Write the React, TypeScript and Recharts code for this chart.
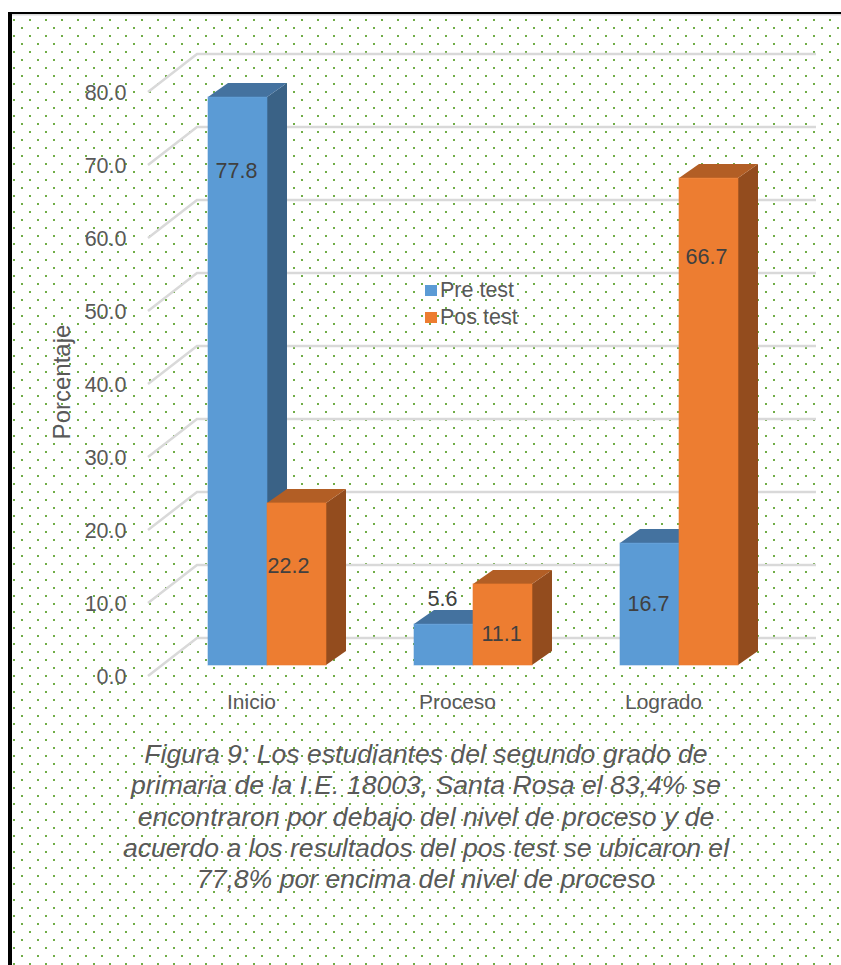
import React from "react";
import { BarChart, Bar, XAxis, YAxis, Legend, LabelList, CartesianGrid } from "recharts";

const categories = ["Inicio", "Proceso", "Logrado"];
const preTest = [77.8, 5.6, 16.7];
const posTest = [22.2, 11.1, 66.7];
const yTicks = [0, 10, 20, 30, 40, 50, 60, 70, 80];
const captionLines = [
  "Figura 9: Los estudiantes del segundo grado de",
  "primaria de la I.E. 18003, Santa Rosa el 83,4% se",
  "encontraron por debajo del nivel de proceso y de",
  "acuerdo a los resultados del pos test se ubicaron el",
  "77,8% por encima del nivel de proceso",
];

const table = categories.map((name, i) => ({ name, pre: preTest[i], pos: posTest[i] }));

// Hand-placed data label nudges (dx, dy from the top-centre of the front face)
const preLabelNudge = [[-1, 73], [-1, -26], [-1, 60]];
const posLabelNudge = [[-8, 63], [-1, 50], [-2, 78]];

const FONT = '"Liberation Sans", Arial, sans-serif';
const GREY = "#595959";
const DX = 20;
const DY = 14;

function Box3D(props: any) {
  const { x, y, width, height, front, top, side } = props;
  if (height == null) return null;
  const r = x + width;
  const b = y + height;
  return (
    <g>
      <polygon points={`${r},${y} ${r + DX},${y - DY} ${r + DX},${b - DY} ${r},${b}`} fill={side} />
      <polygon points={`${x},${y} ${x + DX},${y - DY} ${r + DX},${y - DY} ${r},${y}`} fill={top} />
      <rect x={x} y={y} width={width} height={height} fill={front} stroke={front} strokeOpacity={0.6} strokeWidth={1} />
    </g>
  );
}

function GridLine(props: any) {
  const y = props.y1;
  return (
    <polyline
      key={props.key}
      points={`148,${y + 11} 197,${y - 27} 816,${y - 27}`}
      fill="none"
      stroke="#d9d9d9"
      strokeWidth={2.5}
    />
  );
}

function YTick(props: any) {
  const { y, payload } = props;
  return (
    <text x={126.5} y={y + 11} dy={7.5} textAnchor="end" fontFamily={FONT} fontSize={21.5} fill={GREY}>
      {payload.value.toFixed(1)}
    </text>
  );
}

function XTick(props: any) {
  const { x, y, payload } = props;
  return (
    <text x={x - 15.5} y={y + 29} dy={7} textAnchor="middle" fontFamily={FONT} fontSize={21} fill={GREY}>
      {payload.value}
    </text>
  );
}

function YTitle(props: any) {
  const { viewBox } = props;
  const cx = viewBox.x + 62;
  const cy = viewBox.y + viewBox.height / 2 + 9;
  return (
    <text
      x={cx}
      y={cy}
      dy={8}
      transform={`rotate(-90 ${cx} ${cy})`}
      textAnchor="middle"
      fontFamily={FONT}
      fontSize={24}
      fill={GREY}
    >
      Porcentaje
    </text>
  );
}

const makeLabel = (nudge: number[][]) => (props: any) => {
  const { x, y, width, value, index } = props;
  return (
    <text
      x={x + width / 2 + nudge[index][0]}
      y={y + nudge[index][1]}
      dy={7.5}
      textAnchor="middle"
      fontFamily={FONT}
      fontSize={21.5}
      fill="#404040"
    >
      {Number(value).toFixed(1)}
    </text>
  );
};

function LegendBox({ payload }: any) {
  return (
    <div style={{ fontFamily: FONT, fontSize: 21.5, color: GREY }}>
      {(payload || []).map((e: any) => (
        <div key={e.value} style={{ display: "flex", alignItems: "center", height: 27, whiteSpace: "nowrap" }}>
          <span style={{ width: 12, height: 11, background: e.color, marginRight: 3, display: "inline-block" }} />
          {e.value}
        </div>
      ))}
    </div>
  );
}

export default function App() {
  return (
    <div style={{ position: "absolute", left: 0, top: 0, width: 841, height: 965, overflow: "hidden", background: "#fff" }}>
      <svg width={841} height={965} style={{ position: "absolute", left: 0, top: 0 }}>
        <defs>
          <pattern id="dots" x={0} y={0} width={16} height={16} patternUnits="userSpaceOnUse">
            <rect x={13} y={3} width={2} height={2} fill="#70ad47" />
            <rect x={5} y={11} width={2} height={2} fill="#70ad47" />
          </pattern>
        </defs>
        <rect x={12} y={14} width={829} height={951} fill="url(#dots)" />
        <rect x={12} y={14} width={829} height={1.5} fill="#d9d9d9" />
        <rect x={8} y={12} width={833} height={2} fill="#000" />
        <rect x={8} y={12} width={4} height={953} fill="#000" />
      </svg>
      <div style={{ position: "absolute", left: 0, top: 0 }}>
        <BarChart
          width={841}
          height={965}
          data={table}
          margin={{ top: 81, right: 59, bottom: 270, left: 0 }}
          barSize={59}
          barGap={0}
        >
          <CartesianGrid vertical={false} horizontal={GridLine as any} syncWithTicks />
          <XAxis dataKey="name" axisLine={false} tickLine={false} height={30} tick={<XTick />} interval={0} />
          <YAxis
            type="number"
            domain={[0, 80]}
            ticks={yTicks}
            interval={0}
            width={164}
            axisLine={false}
            tickLine={false}
            tick={<YTick />}
            label={{ content: <YTitle /> }}
          />
          <Legend
            layout="vertical"
            verticalAlign="middle"
            align="center"
            itemSorter={null}
            wrapperStyle={{ left: 425, top: 277, width: 120 }}
            content={<LegendBox />}
          />
          <Bar
            dataKey="pre"
            name="Pre test"
            fill="#5b9bd5"
            isAnimationActive={false}
            shape={<Box3D front="#5b9bd5" top="#44729f" side="#3a6286" />}
          >
            <LabelList dataKey="pre" content={makeLabel(preLabelNudge)} />
          </Bar>
          <Bar
            dataKey="pos"
            name="Pos test"
            fill="#ed7d31"
            isAnimationActive={false}
            shape={<Box3D front="#ed7d31" top="#b25e25" side="#934c1e" />}
          >
            <LabelList dataKey="pos" content={makeLabel(posLabelNudge)} />
          </Bar>
        </BarChart>
      </div>
      <div
        style={{
          position: "absolute",
          left: 0,
          top: 739,
          width: 852,
          textAlign: "center",
          fontFamily: FONT,
          fontStyle: "italic",
          fontSize: 26.6,
          lineHeight: "31.3px",
          color: GREY,
        }}
      >
        {captionLines.map((l) => (
          <div key={l} style={{ whiteSpace: "nowrap" }}>{l}</div>
        ))}
      </div>
    </div>
  );
}
